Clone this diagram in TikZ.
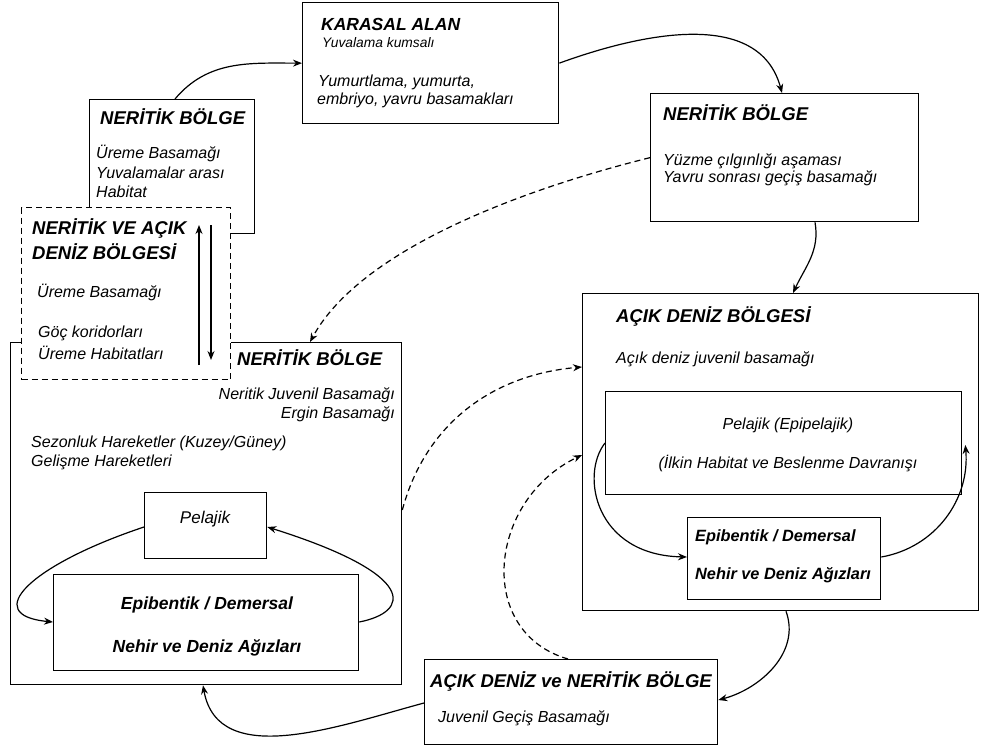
\documentclass[tikz,border=0pt]{standalone}
\usepackage{fontspec}
\setmainfont{Liberation Sans}
\usetikzlibrary{calc,arrows.meta}
\begin{document}
\begin{tikzpicture}[x=1pt,y=-1pt,
  box/.style={draw, line width=1.3pt, fill=white, rectangle, inner sep=0pt, anchor=north west},
  dbox/.style={box, dash pattern=on 6pt off 4pt},
  hd/.style={font=\fontsize{18.5}{22}\selectfont\bfseries\itshape, inner sep=0pt, anchor=west},
  tx/.style={font=\fontsize{16}{19}\selectfont\itshape, inner sep=0pt, anchor=west},
  bi/.style={font=\fontsize{17.5}{21}\selectfont\bfseries\itshape, inner sep=0pt},
  conn/.style={line width=1.2pt, -{Stealth[length=9pt,width=7pt]}},
  dconn/.style={conn, dash pattern=on 6pt off 4pt},
]
\useasboundingbox (0,0) rectangle (981,751);

% boxes
\node[box, minimum width=391pt, minimum height=342pt] (bl) at (10,342) {};
\node[box, minimum width=165pt, minimum height=134pt] (nl) at (89,99) {};
\node[dbox, minimum width=209pt, minimum height=172pt] (db) at (21,207) {};
\node[box, minimum width=256pt, minimum height=121pt] (kar) at (302,2) {};
\node[box, minimum width=268pt, minimum height=128pt] (nr) at (650,93) {};
\node[box, minimum width=122pt, minimum height=66pt] (lp) at (144,492) {};
\node[box, minimum width=305pt, minimum height=96pt] (le) at (53,574) {};
\node[box, minimum width=396pt, minimum height=317pt] (ad) at (582,293) {};
\node[box, minimum width=356pt, minimum height=103pt] (rp) at (605,391) {};
\node[box, minimum width=193pt, minimum height=82pt] (re) at (687,517) {};
\node[box, minimum width=293pt, minimum height=85pt] (bot) at (424,659) {};

% texts: KARASAL
\node[hd, font=\fontsize{17.5}{21}\selectfont\bfseries\itshape] (k1) at (321,24) {KARASAL ALAN};
\node[tx, font=\fontsize{13.8}{16}\selectfont\itshape] (k2) at (322,43) {Yuvalama kumsalı};
\node[tx] (k3) at (318,82) {Yumurtlama, yumurta,};
\node[tx] (k4) at (317,100) {embriyo, yavru basamakları};
% top-left neritik
\node[hd] (n1) at (100,117) {NERİTİK BÖLGE};
\node[tx] (n2) at (96,153) {Üreme Basamağı};
\node[tx] (n3) at (96,173) {Yuvalamalar arası};
\node[tx] (n4) at (96,192) {Habitat};
% dashed
\node[hd] (d1) at (32,228) {NERİTİK VE AÇIK};
\node[hd] (d2) at (32,252) {DENİZ BÖLGESİ};
\node[tx] (d3) at (37,292) {Üreme Basamağı};
\node[tx] (d4) at (38,333) {Göç koridorları};
\node[tx] (d5) at (38,353) {Üreme Habitatları};
% top-right neritik
\node[hd] (r1) at (663,113) {NERİTİK BÖLGE};
\node[tx] (r2) at (663,161) {Yüzme çılgınlığı aşaması};
\node[tx] (r3) at (663,178) {Yavru sonrası geçiş basamağı};
% acik deniz
\node[hd] (a1) at (616,316) {AÇIK DENİZ BÖLGESİ};
\node[tx] (a2) at (616,359) {Açık deniz juvenil basamağı};
\node[tx, anchor=center] (a3) at (788,425) {Pelajik (Epipelajik)};
\node[tx, anchor=center] (a4) at (788,464) {(İlkin Habitat ve Beslenme Davranışı};
\node[bi, anchor=west, font=\fontsize{16.3}{20}\selectfont\bfseries\itshape] (a5) at (695,537) {Epibentik / Demersal};
\node[bi, anchor=west, font=\fontsize{16.3}{20}\selectfont\bfseries\itshape] (a6) at (695,575) {Nehir ve Deniz Ağızları};
% big left neritik
\node[hd] (b1) at (237,358) {NERİTİK BÖLGE};
\node[tx, anchor=east] (b2) at (395,395) {Neritik Juvenil Basamağı};
\node[tx, anchor=east] (b3) at (395,414) {Ergin Basamağı};
\node[tx] (b4) at (31,443) {Sezonluk Hareketler (Kuzey/Güney)};
\node[tx] (b5) at (31,462) {Gelişme Hareketleri};
\node[tx, anchor=center, font=\fontsize{17}{20}\selectfont\itshape] (b6) at (205,519) {Pelajik};
\node[bi] (b7) at (207,605) {Epibentik / Demersal};
\node[bi] (b8) at (207,648) {Nehir ve Deniz Ağızları};
% bottom
\node[hd] (o1) at (430,681) {AÇIK DENİZ ve NERİTİK BÖLGE};
\node[tx] (o2) at (438,718) {Juvenil Geçiş Basamağı};

% connectors
\draw[conn] ($(nl.north west)+(86,0)$) to[out=50,in=180] (kar.west);
\draw[conn] (kar.east) to[out=20,in=105] ($(nr.north west)+(132,0)$);
\draw[conn] ($(nr.south west)+(165,0)$) to[out=-80,in=65] ($(ad.north west)+(211,0)$);
\draw[dconn] (nr.west) .. controls (520,190) and (360,250) .. ($(bl.north west)+(300,0)$);
\draw[dconn] ($(bl.north east)+(0,168)$) to[out=75,in=185] ($(ad.north west)+(0,74)$);
\draw[dconn] ($(bot.north west)+(144,0)$) .. controls (475,632) and (488,500) .. ($(ad.north west)+(0,162)$);
\draw[conn] ($(ad.south west)+(204,0)$) to[out=-70,in=15] ($(bot.north east)+(0,41)$);
\draw[conn] ($(bot.north west)+(0,44)$) to[out=195,in=-80] ($(bl.south west)+(193,0)$);
\draw[conn] ($(lp.north west)+(0,35)$) .. controls (30,565) and (-20,615) .. ($(le.north west)+(0,48)$);
\draw[conn] ($(le.north east)+(0,48)$) .. controls (410,612) and (420,575) .. ($(lp.north east)+(0,35)$);
\draw[conn] ($(rp.north west)+(0,52)$) .. controls (580,475) and (595,555) .. ($(re.north west)+(0,40)$);
\draw[conn] ($(re.north east)+(0,40)$) to[out=10,in=-85] ($(rp.north east)+(3,54)$);
\draw[conn] ($(db.north west)+(178,158)$) -- ($(db.north west)+(178,18)$);
\draw[conn] ($(db.north west)+(190,18)$) -- ($(db.north west)+(190,153)$);
\end{tikzpicture}
\end{document}
